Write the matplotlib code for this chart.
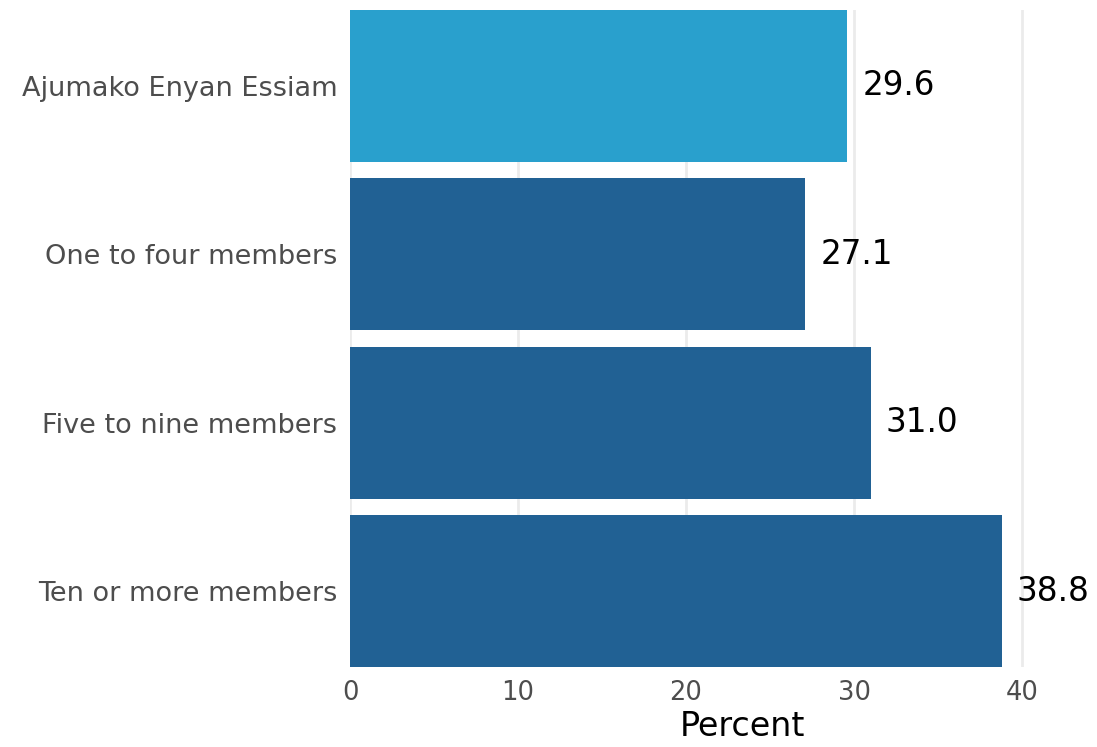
import matplotlib
matplotlib.use("Agg")
import matplotlib.pyplot as plt

categories = ["Ajumako Enyan Essiam", "One to four members",
              "Five to nine members", "Ten or more members"]
values = [29.6, 27.1, 31.0, 38.8]
bar_colors = ["#29A0CD", "#216194", "#216194", "#216194"]
xticks = [0, 10, 20, 30, 40]

plt.rcParams['font.family'] = ['DejaVu Sans']

fig = plt.figure(figsize=(10.97, 7.47), dpi=100)
# axes: x=0 at px 350, 16.8 px per unit; y from px 10 to 667
ax_w = 44 * 16.8 / 1097
ax = fig.add_axes([350 / 1097, 1 - 667 / 747, ax_w, 657 / 747])

ypos = list(range(len(categories)))
ax.barh(ypos, values, height=0.9, color=bar_colors, zorder=2)
for y, v in zip(ypos, values):
    ax.text(v + 0.9, y, f"{v:.1f}", va="center", ha="left",
            fontsize=23.5, color="black")

ax.set_ylim(3.45, -0.45)
ax.set_xlim(0, 44)
ax.set_yticks(ypos)
ax.set_yticklabels(categories, fontsize=19.5, color="#4D4D4D")
ax.set_xticks(xticks)
ax.set_xticklabels([str(t) for t in xticks], fontsize=18.5, color="#4D4D4D")
ax.tick_params(length=0, pad=9)
ax.tick_params(axis="y", pad=9)
ax.xaxis.grid(True, color="#EBEBEB", linewidth=2, zorder=0)
ax.set_axisbelow(True)
for s in ax.spines.values():
    s.set_visible(False)
ax.set_xlabel("Percent", fontsize=24, color="black")
# label sits a bit right of panel centre in the original
ax.xaxis.set_label_coords((742 - 350) / (44 * 16.8), -0.066)

fig.savefig("out.png", dpi=100)
